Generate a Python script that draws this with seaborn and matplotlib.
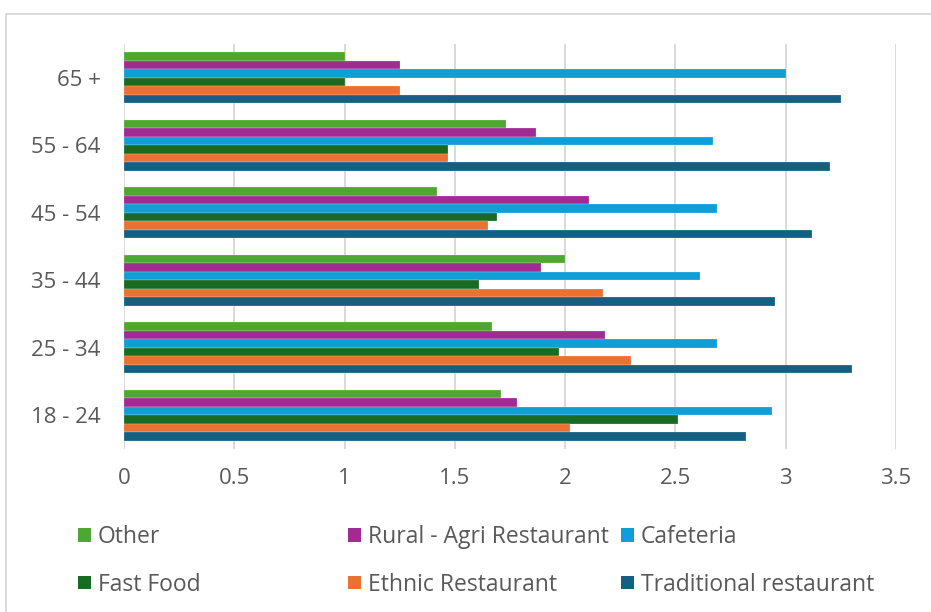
import matplotlib
matplotlib.use("Agg")
import matplotlib.pyplot as plt
from matplotlib.patches import Patch, Rectangle
import seaborn as sns
import pandas as pd

# Age groups, top to bottom
age_groups = ["65 +", "55 - 64", "45 - 54", "35 - 44", "25 - 34", "18 - 24"]

# Restaurant types, in bar order within each group (top to bottom)
venue_types = ["Other", "Rural - Agri Restaurant", "Cafeteria",
               "Fast Food", "Ethnic Restaurant", "Traditional restaurant"]

# Mean scores per age group for each venue type
other       = [1.00, 1.73, 1.42, 2.00, 1.67, 1.71]
rural_agri  = [1.25, 1.87, 2.11, 1.89, 2.18, 1.78]
cafeteria   = [3.00, 2.67, 2.69, 2.61, 2.69, 2.94]
fast_food   = [1.00, 1.47, 1.69, 1.61, 1.97, 2.51]
ethnic      = [1.25, 1.47, 1.65, 2.17, 2.30, 2.02]
traditional = [3.25, 3.20, 3.12, 2.95, 3.30, 2.82]

x_ticks = [0, 0.5, 1, 1.5, 2, 2.5, 3, 3.5]
x_tick_labels = ["0", "0.5", "1", "1.5", "2", "2.5", "3", "3.5"]

colors = ["#4EA72E", "#A02B93", "#0F9ED5", "#196B24", "#E97132", "#156082"]

series = [other, rural_agri, cafeteria, fast_food, ethnic, traditional]
rows = []
for name, vals in zip(venue_types, series):
    for age, v in zip(age_groups, vals):
        rows.append({"age": age, "type": name, "value": v})
df = pd.DataFrame(rows)

sns.set_theme(style="white")
plt.rcParams["font.family"] = ["Open Sans", "DejaVu Sans"]
text_color = "#595959"

fig = plt.figure(figsize=(9.31, 6.12), dpi=100)
fig.patch.set_facecolor("white")
ax = fig.add_axes([124 / 931, 1 - 449 / 612, (896 - 124) / 931, (449 - 44) / 612])

sns.barplot(data=df, x="value", y="age", hue="type", order=age_groups,
            hue_order=venue_types, palette=colors, width=0.75, gap=0,
            orient="h", ax=ax, legend=False, saturation=1,
            edgecolor="#ffffff80", linewidth=0.3)

ax.set_xlim(0, 3.5)
ax.set_xticks(x_ticks)
ax.set_xticklabels(x_tick_labels)
ax.set_xlabel("")
ax.set_ylabel("")
ax.grid(axis="x", color="#d9d9d9", linewidth=1.4)
ax.grid(axis="y", visible=False)
ax.set_axisbelow(True)
for s in ax.spines.values():
    s.set_visible(False)
ax.tick_params(axis="x", length=0, pad=14, labelsize=16, labelcolor=text_color)
ax.tick_params(axis="y", length=0, pad=17, labelsize=16, labelcolor=text_color)

# Outer chart frame
fig.patches.append(Rectangle((6 / 931, -0.05), 1.1, 1 - 14 / 612 + 0.05,
                             transform=fig.transFigure, fill=False,
                             edgecolor="#d9d9d9", linewidth=1.3, clip_on=False))

# Legend: three columns of two entries each
columns = [(0, 3), (1, 4), (2, 5)]
col_x = [78 / 931, 348 / 931, 621 / 931]
for (i, j), xpos in zip(columns, col_x):
    handles = [Patch(facecolor=colors[i], edgecolor="none"),
               Patch(facecolor=colors[j], edgecolor="none")]
    fig.legend(handles, [venue_types[i], venue_types[j]],
               loc="upper left", bbox_to_anchor=(xpos, 1 - 525 / 612),
               bbox_transform=fig.transFigure, frameon=False,
               fontsize=16.5, labelcolor=text_color,
               handlelength=0.55, handleheight=0.55, handletextpad=0.32,
               labelspacing=1.03, borderpad=0, borderaxespad=0)

fig.savefig("out.png", dpi=100, facecolor="white")
